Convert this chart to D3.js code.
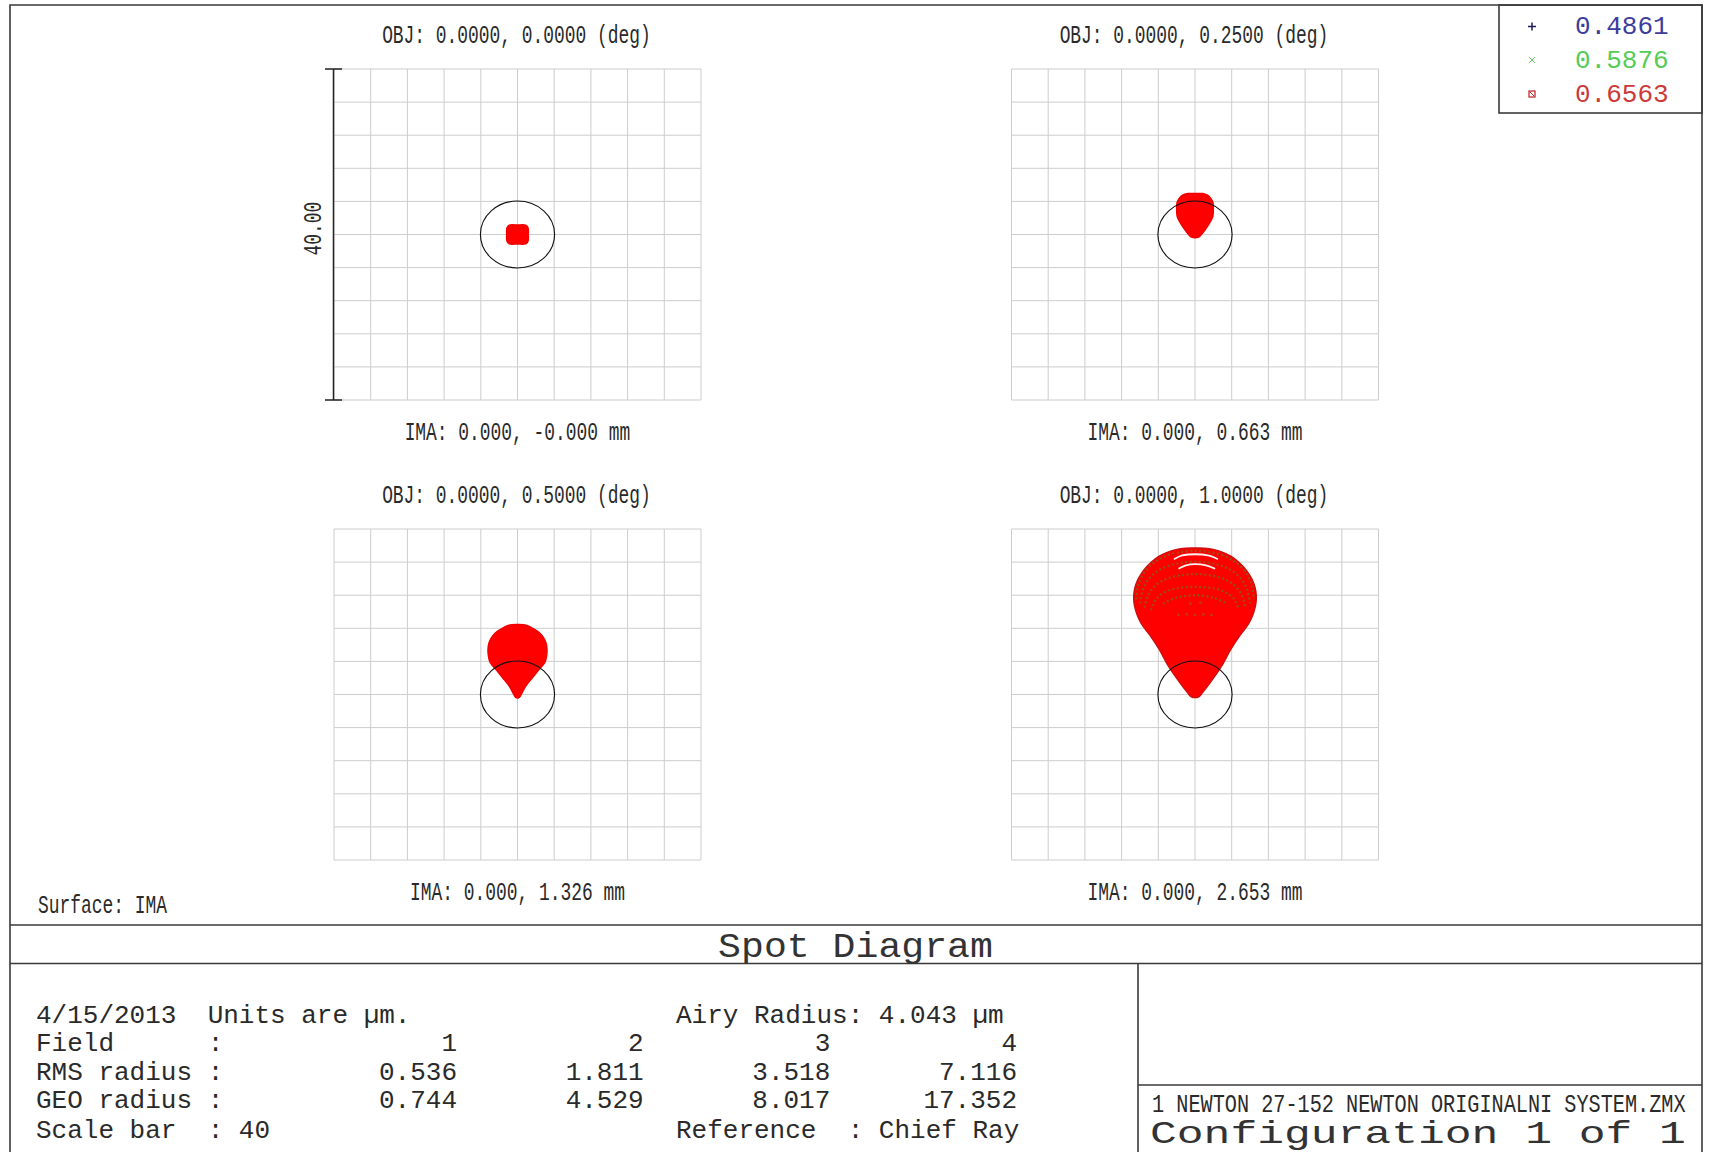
<!DOCTYPE html>
<html>
<head>
<meta charset="utf-8">
<script src="https://cdn.jsdelivr.net/npm/d3@7"></script>
<style>
  html, body { margin: 0; padding: 0; background: #fff; }
  svg { display: block; }
</style>
</head>
<body>
<svg id="chart" width="1724" height="1152"></svg>
<script>
// ---- Spot diagram data (µm, relative to the chief ray) ----
const fieldNumbers = [1, 2, 3, 4];
const objAngles = [0.0, 0.25, 0.5, 1.0];                 // deg
const imaHeights = ["-0.000", "0.663", "1.326", "2.653"]; // mm
const rmsRadius = [0.536, 1.811, 3.518, 7.116];
const geoRadius = [0.744, 4.529, 8.017, 17.352];
const wavelengths = [0.4861, 0.5876, 0.6563];
const wavelengthColors = ["#3c3c9c", "#55cc55", "#cc3a3a"];
const airyRadius = 4.043;
const scaleBar = 40;
const gridTicks = [-20, -16, -12, -8, -4, 0, 4, 8, 12, 16, 20];

// Outline of each spot (x, y) in µm
const spot1 = [[-1.15,0.8],[-0.9,1.12],[0,1.15],[0.9,1.12],[1.15,0.8],[1.18,0],[1.15,-0.8],
  [0.9,-1.12],[0,-1.15],[-0.9,-1.12],[-1.15,-0.8],[-1.18,0]];
const spot2 = [[0,4.97],[0.8,4.95],[1.35,4.75],[1.7,4.4],[1.95,3.9],[2.0,3.2],[1.95,2.2],
  [1.6,1.4],[1.12,0.6],[0.7,0.0],[0.4,-0.3],[-0.4,-0.3],[-0.7,0.0],[-1.12,0.6],[-1.6,1.4],
  [-1.95,2.2],[-2.0,3.2],[-1.95,3.9],[-1.7,4.4],[-1.35,4.75],[-0.8,4.95]];
const spot3 = [[0,8.46],[0.95,8.38],[1.82,7.9],[2.45,7.4],[2.85,6.85],[3.12,6.2],[3.22,5.44],
  [3.18,4.7],[3.0,3.9],[2.3,2.95],[1.6,2.0],[0.9,1.0],[0.4,0.0],[0.2,-0.35],[0,-0.42],
  [-0.2,-0.35],[-0.4,0.0],[-0.9,1.0],[-1.6,2.0],[-2.3,2.95],[-3.0,3.9],[-3.18,4.7],
  [-3.22,5.44],[-3.12,6.2],[-2.85,6.85],[-2.45,7.4],[-1.82,7.9],[-0.95,8.38]];
const spot4 = [[0,17.7],[1.0,17.68],[2.1,17.5],[3.1,17.15],[3.95,16.7],[4.65,16.1],[5.3,15.4],
  [5.85,14.6],[6.27,13.8],[6.55,12.9],[6.68,12.0],[6.65,11.1],[6.5,10.3],[6.25,9.45],[5.9,8.66],
  [5.4,7.85],[4.85,7.05],[3.9,5.44],[2.9,3.42],[1.64,1.41],[0.8,0.2],[0.45,-0.25],[0,-0.38],
  [-0.45,-0.25],[-0.8,0.2],[-1.64,1.41],[-2.9,3.42],[-3.9,5.44],[-4.85,7.05],[-5.4,7.85],
  [-5.9,8.66],[-6.25,9.45],[-6.5,10.3],[-6.65,11.1],[-6.68,12.0],[-6.55,12.9],[-6.27,13.8],
  [-5.85,14.6],[-5.3,15.4],[-4.65,16.1],[-3.95,16.7],[-3.1,17.15],[-2.1,17.5],[-1.0,17.68]];
const spotOutlines = [spot1, spot2, spot3, spot4];

// Ring structure inside the largest spot (overlapping markers of other wavelengths)
const ringArcs4 = [
  [[-6.4,11.5],[-6.2,13.2],[-5.5,14.8],[-4.4,16.0],[-2.8,16.9],[0,17.35],[2.8,16.9],[4.4,16.0],[5.5,14.8],[6.2,13.2],[6.4,11.5]],
  [[-6.0,11.0],[-5.7,12.6],[-5.0,14.0],[-3.8,15.1],[-2.1,15.8],[0,16.05],[2.1,15.8],[3.8,15.1],[5.0,14.0],[5.7,12.6],[6.0,11.0]],
  [[-5.5,10.5],[-5.1,12.0],[-4.3,13.2],[-2.8,14.1],[0,14.55],[2.8,14.1],[4.3,13.2],[5.1,12.0],[5.5,10.5]],
  [[-4.8,10.2],[-4.2,11.6],[-2.8,12.6],[0,13.0],[2.8,12.6],[4.2,11.6],[4.8,10.2]],
  [[-3.5,11.0],[-2.0,11.7],[0,12.0],[2.0,11.7],[3.5,11.0]]
];
const gapArcs4 = [
  [[-2.3,16.35],[-1.4,16.8],[0,16.95],[1.4,16.8],[2.5,16.35]],
  [[-1.8,15.2],[-1.0,15.6],[0,15.75],[1.2,15.6],[2.2,15.2]]
];
const sparseDots4 = [[-1.8,9.6],[-0.9,9.7],[0,9.6],[0.9,9.7],[1.8,9.6],[-0.5,11.0],[0.6,11.1]];

// ---- Layout ----
const W = 1724, H = 1152;
const textColor = "#2a2a2a";
const monoFont = "'Liberation Mono', 'DejaVu Sans Mono', monospace";
const panelW = 367, panelH = 331;
const panelOrigins = [[334, 69], [1011.5, 69], [334, 529], [1011.5, 529]];
const nb = s => s.replace(/ /g, "\u00A0");   // keep runs of spaces in SVG text

const svg = d3.select("#chart");
svg.append("rect").attr("width", W).attr("height", H).attr("fill", "#fff");

// condensed label helper: text squeezed to a fixed advance per character
function label(g, str, x, y, opts = {}) {
  const fs = opts.fontSize || 25;
  const adv = opts.advance || 10.75;
  const t = g.append("text")
    .attr("x", x).attr("y", y + fs * 0.3)
    .attr("font-family", monoFont)
    .attr("font-size", fs)
    .attr("fill", opts.fill || textColor)
    .attr("text-anchor", opts.anchor || "middle")
    .attr("textLength", str.length * adv)
    .attr("lengthAdjust", "spacingAndGlyphs")
    .text(nb(str));
  if (opts.transform) t.attr("transform", opts.transform);
  return t;
}

// text drawn at its natural monospace width, then stretched vertically
function tallText(g, str, x, yCenter, fs, sy, fill) {
  return g.append("text")
    .attr("transform", `translate(${x},${yCenter}) scale(1,${sy})`)
    .attr("y", fs * 0.3)
    .attr("font-family", monoFont).attr("font-size", fs)
    .attr("fill", fill || textColor)
    .text(nb(str));
}

// ---- Frame ----
const frame = svg.append("g").attr("stroke", "#3a3a3a").attr("stroke-width", 1.6).attr("fill", "none");
frame.append("path").attr("d", `M10,${H} V5 H1702 V${H}`);
frame.append("line").attr("x1", 10).attr("x2", 1702).attr("y1", 925).attr("y2", 925);
frame.append("line").attr("x1", 10).attr("x2", 1702).attr("y1", 963.5).attr("y2", 963.5);
frame.append("line").attr("x1", 1138).attr("x2", 1138).attr("y1", 963.5).attr("y2", H);
frame.append("line").attr("x1", 1138).attr("x2", 1702).attr("y1", 1085).attr("y2", 1085);
frame.append("rect").attr("x", 1499).attr("y", 5).attr("width", 203).attr("height", 108);

// ---- Panels ----
const lineGen = (x, y) => d3.line().x(d => x(d[0])).y(d => y(d[1]));

panelOrigins.forEach((o, i) => {
  const x = d3.scaleLinear().domain([-scaleBar / 2, scaleBar / 2]).range([o[0], o[0] + panelW]);
  const y = d3.scaleLinear().domain([-scaleBar / 2, scaleBar / 2]).range([o[1] + panelH, o[1]]);
  const g = svg.append("g");

  // grid
  const grid = g.append("g").attr("stroke", "#cdcdcd").attr("stroke-width", 1);
  grid.selectAll(".v").data(gridTicks).join("line")
    .attr("x1", d => x(d)).attr("x2", d => x(d)).attr("y1", y(-20)).attr("y2", y(20));
  grid.selectAll(".h").data(gridTicks).join("line")
    .attr("y1", d => y(d)).attr("y2", d => y(d)).attr("x1", x(-20)).attr("x2", x(20));

  // spot
  const path = lineGen(x, y).curve(d3.curveCatmullRomClosed.alpha(0.5));
  g.append("path").attr("d", path(spotOutlines[i]))
    .attr("fill", "#ff0000").attr("stroke", i === 3 ? "#cc1010" : "#f00000").attr("stroke-width", 1.4);

  if (i === 3) {
    const open = lineGen(x, y).curve(d3.curveCatmullRom.alpha(0.5));
    g.selectAll(".ring").data(ringArcs4).join("path")
      .attr("d", open).attr("fill", "none")
      .attr("stroke", "#8a5a1a").attr("stroke-width", 2.2)
      .attr("stroke-dasharray", "2 2.5").attr("opacity", 0.85);
    g.selectAll(".gap").data(gapArcs4).join("path")
      .attr("d", open).attr("fill", "none")
      .attr("stroke", "#ffffff").attr("stroke-width", 1.8).attr("opacity", 0.95);
    g.selectAll(".dot").data(sparseDots4).join("rect")
      .attr("x", d => x(d[0]) - 1.2).attr("y", d => y(d[1]) - 1.2)
      .attr("width", 2.4).attr("height", 2.4).attr("fill", "#9a5a1e").attr("opacity", 0.7);
  }

  // Airy disk
  g.append("ellipse")
    .attr("cx", x(0)).attr("cy", y(0))
    .attr("rx", x(airyRadius) - x(0)).attr("ry", y(0) - y(airyRadius))
    .attr("fill", "none").attr("stroke", "#111").attr("stroke-width", 1.1);

  // labels
  const cx = o[0] + panelW / 2;
  label(g, `OBJ: 0.0000, ${objAngles[i].toFixed(4)} (deg)`, cx - 1, o[1] - 34);
  label(g, `IMA: 0.000, ${imaHeights[i]} mm`, cx, o[1] + panelH + 32);

  // scale bar on the first panel
  if (i === 0) {
    const sb = g.append("g").attr("stroke", "#222").attr("stroke-width", 1.5);
    sb.append("line").attr("x1", x(-20) - 0.5).attr("x2", x(-20) - 0.5).attr("y1", y(20)).attr("y2", y(-20));
    sb.append("line").attr("x1", x(-20) - 9).attr("x2", x(-20) + 8).attr("y1", y(20)).attr("y2", y(20));
    sb.append("line").attr("x1", x(-20) - 9).attr("x2", x(-20) + 8).attr("y1", y(-20)).attr("y2", y(-20));
    label(g, scaleBar.toFixed(2), 0, 0, { transform: `translate(313,${y(0) - 6}) rotate(-90)` });
  }
});

// ---- Legend ----
const leg = svg.append("g");
const legRowY = [26.5, 60, 94];
wavelengths.forEach((w, i) => {
  const yy = legRowY[i];
  leg.append("text").attr("x", 1575).attr("y", yy + 26 * 0.3)
    .attr("font-family", monoFont).attr("font-size", 26)
    .attr("fill", wavelengthColors[i]).text(w.toFixed(4));
});
// markers: plus, cross, boxed cross
leg.append("path").attr("d", `M1528,${legRowY[0]}h8M1532,${legRowY[0] - 4}v8`)
  .attr("stroke", "#1e1e5a").attr("stroke-width", 1.5);
leg.append("path").attr("d", `M1529,${legRowY[1] - 3}l6,6M1535,${legRowY[1] - 3}l-6,6`)
  .attr("stroke", "#66cc66").attr("stroke-width", 1);
leg.append("rect").attr("x", 1529).attr("y", legRowY[2] - 3).attr("width", 6).attr("height", 6)
  .attr("fill", "none").attr("stroke", "#c03030").attr("stroke-width", 1.3);
leg.append("path").attr("d", `M1530,${legRowY[2] - 2}l4,4`).attr("stroke", "#c03030").attr("stroke-width", 1);

// ---- Header / footer text ----
label(svg, "Surface: IMA", 38, 905, { anchor: "start" });
label(svg, "Spot Diagram", 855.5, 946, { fontSize: 35, advance: 22.9, fill: "#333" });

// statistics table (monospace 26px)
const tableFs = 26, rowY = [1015, 1043.5, 1072, 1100.5, 1130];
const tbl = svg.append("g").attr("font-family", monoFont).attr("font-size", tableFs)
  .attr("fill", textColor);
const tx = 36;
const colX = d3.scaleLinear().domain([1, 4]).range([457, 1017]);
const rowText = (str, x, y, anchor = "start") =>
  tbl.append("text").attr("x", x).attr("y", y + tableFs * 0.3).attr("text-anchor", anchor).text(nb(str));

rowText("4/15/2013  Units are µm.", tx, rowY[0]);
rowText(`Airy Radius: ${airyRadius.toFixed(3)} µm`, 676, rowY[0]);
rowText("Field      :", tx, rowY[1]);
rowText("RMS radius :", tx, rowY[2]);
rowText("GEO radius :", tx, rowY[3]);
rowText(`Scale bar  : ${scaleBar}`, tx, rowY[4]);
rowText("Reference  : Chief Ray", 676, rowY[4]);
fieldNumbers.forEach((f, i) => {
  rowText(String(f), colX(f), rowY[1], "end");
  rowText(rmsRadius[i].toFixed(3), colX(f), rowY[2], "end");
  rowText(geoRadius[i].toFixed(3), colX(f), rowY[3], "end");
});

// file name (narrow) and configuration line
tallText(svg, "1 NEWTON 27-152 NEWTON ORIGINALNI SYSTEM.ZMX", 1152, 1104, 534 / 44 / 0.6, 1.3);
tallText(svg, "Configuration 1 of 1", 1150, 1133, 536 / 20 / 0.6, 0.72, "#333");
</script>
</body>
</html>
